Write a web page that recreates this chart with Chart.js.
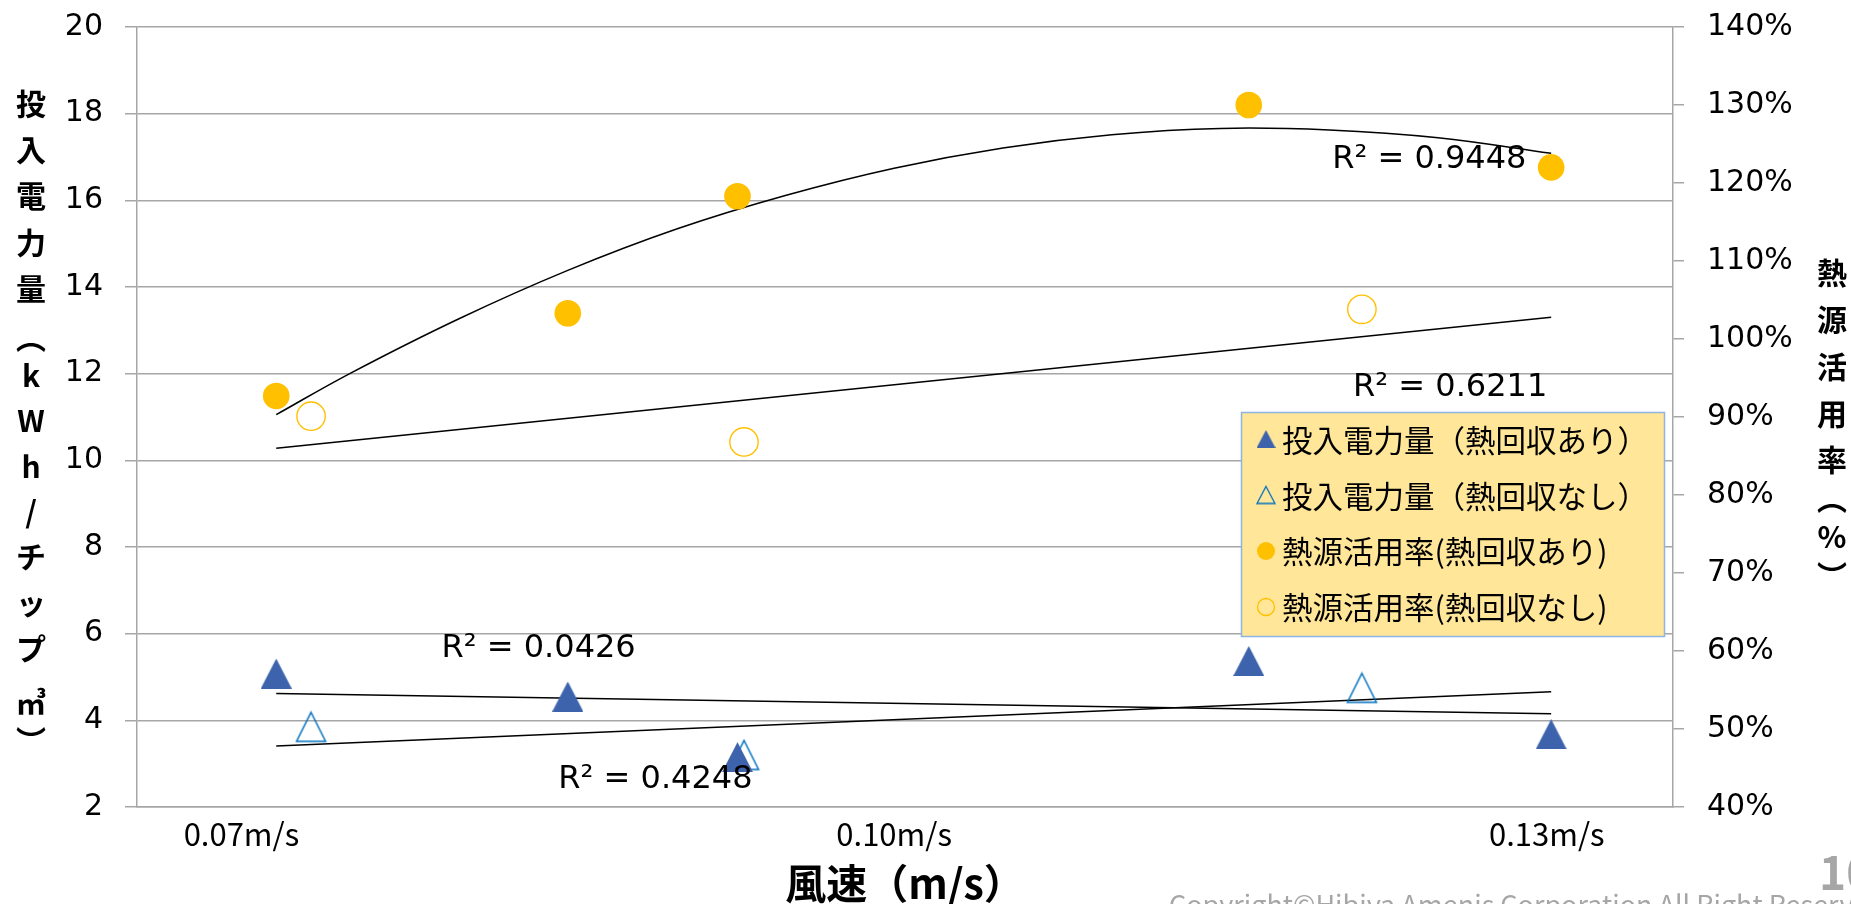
<!DOCTYPE html>
<html lang="ja">
<head>
<meta charset="utf-8">
<title>風速と投入電力量・熱源活用率</title>
<script src="https://cdn.jsdelivr.net/npm/chart.js@4.4.1/dist/chart.umd.min.js"></script>
<style>
  html, body { margin: 0; padding: 0; background: #fff; }
  #wrap { position: relative; width: 1851px; height: 904px; overflow: hidden; }
</style>
</head>
<body>
<div id="wrap"><canvas id="chart" width="1851" height="904"></canvas></div>
<script>
// wind speed of each measurement (m/s)
var windWith = [0.0716, 0.0850, 0.0928, 0.1163, 0.1302];
var windWithout = [0.0732, 0.0931, 0.1215];

// 投入電力量 (kWh/チップ㎥)
var powerWith = [5.08, 4.55, 3.15, 5.37, 3.68];
var powerWithout = [3.85, 3.20, 4.75];

// 熱源活用率 (%)
var heatWith = [92.7, 103.3, 118.3, 130.0, 122.0];
var heatWithout = [90.1, 86.8, 103.8];

// trendlines as drawn in the picture
var trendX = [0.0716, 0.1302];
var trendPowerWith = [4.62, 4.15];
var trendPowerWithout = [3.41, 4.66];
var trendHeatWithout = [86.0, 102.8];
var trendHeatWithX = [0.0716, 0.075, 0.08, 0.085, 0.09, 0.095, 0.10, 0.105, 0.11, 0.115, 0.12, 0.125, 0.1302];
var trendHeatWithY = [90.3, 95.6, 102.6, 108.8, 114.1, 118.4, 121.9, 124.5, 126.2, 127.0, 126.8, 125.8, 123.8];

var xTicks = [0.07, 0.10, 0.13];
var r2Texts = ['R² = 0.9448', 'R² = 0.6211', 'R² = 0.0426', 'R² = 0.4248'];

var seriesLabels = ['投入電力量（熱回収あり）', '投入電力量（熱回収なし）', '熱源活用率(熱回収あり)', '熱源活用率(熱回収なし)'];

var JP = '"Noto Sans CJK JP", "Noto Sans", sans-serif';
var GRID = '#A6A6A6';
var BLUE = '#3C63AC';
var BLUE_LINE = '#0070C0';
var GOLD = '#FFC000';

function pts(xs, ys) {
    return xs.map(function(x, i) { return { x: x, y: ys[i] }; });
}

// isosceles triangle marker like the spreadsheet one
function triangleMarker(w, h, fill, stroke, lw) {
    var c = document.createElement('canvas');
    var pad = lw ? Math.ceil(lw) : 0;
    c.width = Math.ceil(w) + pad * 2;
    c.height = Math.ceil(h) + pad * 2;
    var g = c.getContext('2d');
    var ox = (c.width - w) / 2, oy = (c.height - h) / 2;
    g.beginPath();
    g.moveTo(ox + w / 2, oy);
    g.lineTo(ox + w, oy + h);
    g.lineTo(ox, oy + h);
    g.closePath();
    if (fill) { g.fillStyle = fill; g.fill(); }
    if (stroke) { g.strokeStyle = stroke; g.lineWidth = lw; g.stroke(); }
    return c;
}

var triFilled = triangleMarker(31, 30, BLUE, null, 0);
var triOpen = triangleMarker(29, 29, null, BLUE_LINE, 1.5);
var triFilledSmall = triangleMarker(19, 18, BLUE, null, 0);
var triOpenSmall = triangleMarker(18, 17, null, BLUE_LINE, 1.3);

// vertical axis titles, R² labels, legend box and footer
var extrasPlugin = {
    id: 'extras',
    afterDraw: function(chart) {
        var ctx = chart.ctx;
        var sx = chart.scales.x, sy = chart.scales.y, sy2 = chart.scales.y2;
        ctx.save();

        // left title, stacked
        ctx.fillStyle = '#000';
        ctx.textAlign = 'center';
        ctx.textBaseline = 'middle';
        ctx.font = 'bold 30px ' + JP;
        var leftChars = ['投', '入', '電', '力', '量', '︵', 'k', 'W', 'h', '/', 'チ', 'ッ', 'プ', '㎥', '︶'];
        var leftY = [104, 150, 196, 243, 289, 338, 376, 421, 467, 512, 557, 603, 649, 703, 741];
        leftChars.forEach(function(ch, i) { ctx.fillText(ch, 31, leftY[i]); });

        // right title, stacked
        var rightChars = ['熱', '源', '活', '用', '率', '︵', '%', '︶'];
        var rightY = [273, 320, 367, 414, 460, 499, 537, 576];
        rightChars.forEach(function(ch, i) { ctx.fillText(ch, 1832, rightY[i]); });

        // R² labels
        ctx.font = '32px "DejaVu Sans", sans-serif';
        ctx.textBaseline = 'alphabetic';
        ctx.fillText(r2Texts[0], sx.getPixelForValue(0.1246), sy2.getPixelForValue(121.96));
        ctx.fillText(r2Texts[1], sx.getPixelForValue(0.12556), sy2.getPixelForValue(92.74));
        ctx.fillText(r2Texts[2], sx.getPixelForValue(0.08366), sy.getPixelForValue(5.46));
        ctx.fillText(r2Texts[3], sx.getPixelForValue(0.08903), sy.getPixelForValue(2.44));

        // legend box
        var L = 1241, T = 412, W = 423, H = 224;
        ctx.fillStyle = '#FFE699';
        ctx.fillRect(L, T, W, H);
        ctx.strokeStyle = '#8DB4E2';
        ctx.lineWidth = 1.5;
        ctx.strokeRect(L + 0.5, T + 0.5, W, H);
        var rowY = [440, 496, 551, 607];
        var mx = 1266;
        ctx.drawImage(triFilledSmall, mx - triFilledSmall.width / 2, rowY[0] - 1 - triFilledSmall.height / 2);
        ctx.drawImage(triOpenSmall, mx - triOpenSmall.width / 2, rowY[1] - 1 - triOpenSmall.height / 2);
        ctx.beginPath();
        ctx.arc(mx, rowY[2], 9, 0, Math.PI * 2);
        ctx.fillStyle = GOLD;
        ctx.fill();
        ctx.beginPath();
        ctx.arc(mx, rowY[3], 8.5, 0, Math.PI * 2);
        ctx.strokeStyle = GOLD;
        ctx.lineWidth = 1.3;
        ctx.stroke();
        ctx.fillStyle = '#000';
        ctx.textAlign = 'left';
        ctx.textBaseline = 'middle';
        ctx.font = '30.5px ' + JP;
        seriesLabels.forEach(function(t, i) { ctx.fillText(t, 1282, rowY[i]); });

        // footer
        ctx.fillStyle = '#A6A6A6';
        ctx.font = '27px ' + JP;
        ctx.textBaseline = 'alphabetic';
        ctx.fillText('Copyright©Hibiya Amenis Corporation All Right Reserved', 1169, 915);
        ctx.font = 'bold 46px ' + JP;
        ctx.fillText('10', 1819, 890);

        ctx.restore();
    }
};

// keep the tick padding from pushing the plot area inward
function pinVertical(width) {
    return function(s) {
        s.width = width;
        s.paddingTop = 0;
        s.paddingBottom = 0;
    };
}

var ctx = document.getElementById('chart').getContext('2d');
var chart = new Chart(ctx, {
    type: 'scatter',
    data: {
        datasets: [
            {
                label: seriesLabels[0],
                data: pts(windWith, powerWith),
                yAxisID: 'y',
                pointStyle: triFilled,
                pointRadius: 15
            },
            {
                label: seriesLabels[1],
                data: pts(windWithout, powerWithout),
                yAxisID: 'y',
                pointStyle: triOpen,
                pointRadius: 15
            },
            {
                label: seriesLabels[2],
                data: pts(windWith, heatWith),
                yAxisID: 'y2',
                pointStyle: 'circle',
                pointRadius: 13.3,
                backgroundColor: GOLD,
                borderWidth: 0
            },
            {
                label: seriesLabels[3],
                data: pts(windWithout, heatWithout),
                yAxisID: 'y2',
                pointStyle: 'circle',
                pointRadius: 14.2,
                backgroundColor: 'rgba(0,0,0,0)',
                borderColor: GOLD,
                borderWidth: 1.4
            },
            {
                label: 'trend1',
                data: pts(trendX, trendPowerWith),
                yAxisID: 'y',
                showLine: true, pointRadius: 0,
                borderColor: '#000', borderWidth: 1.5
            },
            {
                label: 'trend2',
                data: pts(trendX, trendPowerWithout),
                yAxisID: 'y',
                showLine: true, pointRadius: 0,
                borderColor: '#000', borderWidth: 1.5
            },
            {
                label: 'trend3',
                data: pts(trendHeatWithX, trendHeatWithY),
                yAxisID: 'y2',
                showLine: true, pointRadius: 0, tension: 0.4,
                borderColor: '#000', borderWidth: 1.5
            },
            {
                label: 'trend4',
                data: pts(trendX, trendHeatWithout),
                yAxisID: 'y2',
                showLine: true, pointRadius: 0,
                borderColor: '#000', borderWidth: 1.5
            }
        ]
    },
    options: {
        responsive: false,
        animation: false,
        events: [],
        devicePixelRatio: 1,
        layout: { padding: { top: 27, left: 0, right: 0, bottom: 0 } },
        plugins: {
            legend: { display: false },
            tooltip: { enabled: false }
        },
        scales: {
            x: {
                type: 'linear',
                position: 'bottom',
                min: 0.0652,
                max: 0.1358,
                afterBuildTicks: function(s) {
                    s.ticks = xTicks.map(function(v) { return { value: v }; });
                },
                ticks: {
                    color: '#000',
                    padding: 9,
                    font: { family: JP, size: 31 },
                    callback: function(v) { return Number(v).toFixed(2) + 'm/s'; }
                },
                grid: { display: false, drawTicks: false },
                border: { display: true, color: GRID, width: 1.5 },
                title: {
                    display: true,
                    text: '風速（m/s）',
                    color: '#000',
                    font: { family: JP, size: 41, weight: 'bold', lineHeight: 1 },
                    padding: { top: 0, bottom: 0 }
                },
                afterFit: function(s) { s.height = 97; }
            },
            y: {
                position: 'left',
                min: 2,
                max: 20,
                ticks: {
                    stepSize: 2,
                    color: '#000',
                    padding: 22,
                    font: { family: 'DejaVu Sans', size: 30 }
                },
                grid: { color: GRID, lineWidth: 1.5, tickLength: 12 },
                border: { display: true, color: GRID, width: 1.5 },
                afterFit: pinVertical(137)
            },
            y2: {
                position: 'right',
                min: 40,
                max: 140,
                ticks: {
                    stepSize: 10,
                    color: '#000',
                    padding: 23,
                    font: { family: 'DejaVu Sans', size: 30 },
                    callback: function(v) { return v + '%'; }
                },
                grid: { drawOnChartArea: false, color: GRID, lineWidth: 1.5, tickLength: 11 },
                border: { display: true, color: GRID, width: 1.5 },
                afterFit: pinVertical(178)
            }
        }
    },
    plugins: [extrasPlugin]
});
</script>
</body>
</html>
